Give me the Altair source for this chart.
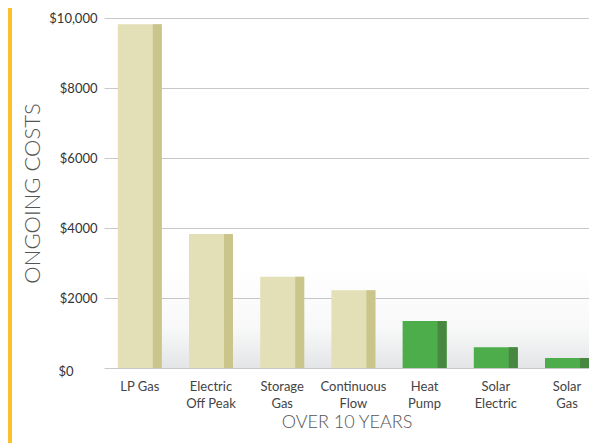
import altair as alt
import pandas as pd

categories = ["LP Gas", "Electric Off Peak", "Storage Gas", "Continuous Flow",
              "Heat Pump", "Solar Electric", "Solar Gas"]
label_lines = [["LP Gas"], ["Electric", "Off Peak"], ["Storage", "Gas"],
               ["Continuous", "Flow"], ["Heat", "Pump"], ["Solar", "Electric"],
               ["Solar", "Gas"]]
costs = [9820, 3830, 2610, 2220, 1340, 590, 285]
groups = ["Conventional", "Conventional", "Conventional", "Conventional",
          "Renewable", "Renewable", "Renewable"]
y_ticks = [0, 2000, 4000, 6000, 8000, 10000]

df = pd.DataFrame({"category": categories, "cost": costs, "group": groups})

# label expression for two-line x labels
expr = "datum.label"
for cat, lines in reversed(list(zip(categories, label_lines))):
    arr = "[" + ",".join("'" + l + "'" for l in lines) + "]"
    expr = f"datum.label == '{cat}' ? {arr} : ({expr})"

FONT = "Lato"
W, H = 485, 350

xscale = alt.Scale(domain=categories, paddingInner=0.382, paddingOuter=0.097, align=1)
yscale = alt.Scale(domain=[0, 10000], nice=False)

x_enc = alt.X("category:N", scale=xscale, sort=categories,
              axis=alt.Axis(title="OVER 10 YEARS", labelAngle=0, labelExpr=expr,
                            labelFont=FONT, labelFontSize=13, labelColor="#444",
                            labelPadding=12, labelLineHeight=17, ticks=False,
                            domain=False, titleFont=FONT, titleFontSize=18,
                            titleFontWeight=300, titleColor="#555", titlePadding=3))
y_enc = alt.Y("cost:Q", scale=yscale,
              axis=alt.Axis(title="ONGOING COSTS", values=y_ticks,
                            labelExpr="datum.value >= 10000 ? '$' + format(datum.value, ',') : '$' + datum.value",
                            labelFont=FONT, labelFontSize=13, labelColor="#333",
                            labelPadding={"condition": {"test": "datum.value == 0", "value": 31}, "value": 7},
                            labelOffset={"condition": {"test": "datum.value == 0", "value": 3}, "value": 0},
                            ticks=False, domain=False, gridColor="#c8c8c8",
                            titleFont=FONT, titleFontSize=22, titleFontWeight=300,
                            titleColor="#555", titlePadding=4))

color_front = alt.Color("group:N", legend=None,
                        scale=alt.Scale(domain=["Conventional", "Renewable"],
                                        range=["#e3dfb6", "#4cad4a"]))
color_side = alt.Color("group:N", legend=None,
                       scale=alt.Scale(domain=["Conventional", "Renewable"],
                                       range=["#c9c58b", "#48873f"]))

floor = alt.Chart(alt.Data(values=[{}])).mark_rect(
    color=alt.Gradient(gradient="linear", x1=0, x2=0, y1=0, y2=1,
                       stops=[alt.GradientStop(color="rgba(120,125,130,0.0)", offset=0),
                              alt.GradientStop(color="rgba(120,125,130,0.05)", offset=0.6),
                              alt.GradientStop(color="rgba(120,125,130,0.2)", offset=1)])
).encode(x=alt.value(49), x2=alt.value(W), y=alt.value(249), y2=alt.value(H))

stripe = alt.Chart(alt.Data(values=[{}])).mark_rect(color="#fbc02d").encode(
    x=alt.value(-96), x2=alt.value(-92), y=alt.value(-10), y2=alt.value(425))

front = alt.Chart(df).mark_bar().encode(x=x_enc, y=y_enc, color=color_front)
side = alt.Chart(df).mark_bar(width=9, xOffset=17.5).encode(
    x=alt.X("category:N", scale=xscale, sort=categories),
    y=alt.Y("cost:Q", scale=yscale), color=color_side)

chart = alt.layer(floor, front, side, stripe).resolve_scale(color="independent").properties(
    width=W, height=H, padding=0
).configure_view(stroke=None)

chart.save("out.html", embed_options={"renderer": "svg", "actions": False})
